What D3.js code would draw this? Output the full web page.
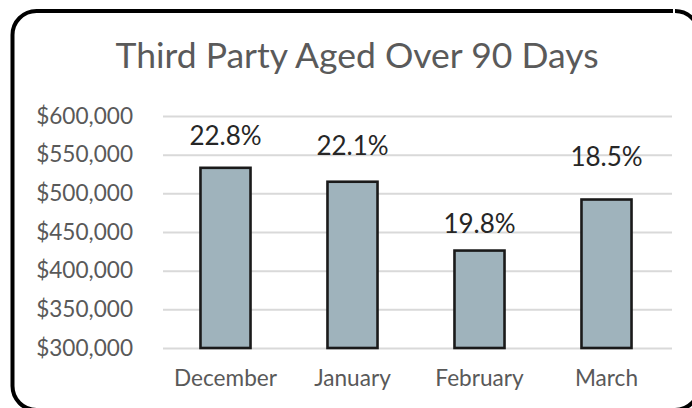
<!DOCTYPE html>
<html>
<head>
<meta charset="utf-8">
<script src="https://cdn.jsdelivr.net/npm/d3@7"></script>
<style>
  html, body { margin: 0; padding: 0; background: #ffffff; overflow: hidden; }
  svg { display: block; font-family: Lato, "Open Sans", sans-serif; }
</style>
</head>
<body>
<svg id="chart" width="692" height="408"></svg>
<script>
// Monthly third-party balances aged over 90 days
const categories = ["December", "January", "February", "March"];
const balances = [533000, 515000, 426000, 492000];
const shareLabels = ["22.8%", "22.1%", "19.8%", "18.5%"];
const yTicks = [300000, 350000, 400000, 450000, 500000, 550000, 600000];
// gap (px) between each bar top and its percentage label baseline
const labelLift = [23, 27, 18, 34];

const svg = d3.select("#chart");

// rounded card frame: left, top and bottom edges with the two right corners
const r = 24, x0 = 12.5, y0 = 11, x1 = 699, y1 = 410;
const frame = d3.path();
frame.moveTo(x1 - r - 2, y0);
frame.lineTo(x0 + r, y0);
frame.arcTo(x0, y0, x0, y0 + r, r);
frame.lineTo(x0, y1 - r);
frame.arcTo(x0, y1, x0 + r, y1, r);
frame.lineTo(x1 - r, y1);
frame.arcTo(x1, y1, x1, y1 - r, r);
frame.moveTo(x1 - r, y0);
frame.arcTo(x1, y0, x1, y0 + r, r);
svg.append("path")
  .attr("d", frame.toString())
  .attr("fill", "none")
  .attr("stroke", "#000000")
  .attr("stroke-width", 4);

svg.append("text")
  .attr("x", 357).attr("y", 68)
  .attr("text-anchor", "middle")
  .attr("font-size", 35.5)
  .attr("fill", "#5a5a5a")
  .text("Third Party Aged Over 90 Days");

const x = d3.scaleBand()
  .domain(categories)
  .range([162, 670])
  .paddingInner(0.606)
  .paddingOuter(0.303);

const y = d3.scaleLinear()
  .domain([300000, 600000])
  .range([348, 116]);

// horizontal gridlines + value axis labels
const yAxis = d3.axisLeft(y)
  .tickValues(yTicks)
  .tickSize(-(672 - 163))
  .tickPadding(30)
  .tickFormat(d => "$" + d3.format(",")(d));

const gy = svg.append("g")
  .attr("transform", "translate(163,0)")
  .call(yAxis);
gy.select(".domain").remove();
gy.selectAll(".tick line")
  .attr("stroke", "#d9d9d9")
  .attr("stroke-width", 2);
gy.selectAll(".tick text")
  .attr("fill", "#595959")
  .attr("font-size", 22.6)
  .attr("font-family", "Lato, sans-serif");

// bars
svg.append("g")
  .selectAll("rect")
  .data(balances)
  .join("rect")
  .attr("x", (d, i) => x(categories[i]))
  .attr("y", d => y(d))
  .attr("width", x.bandwidth())
  .attr("height", d => y(300000) - y(d))
  .attr("fill", "#9fb3bc")
  .attr("stroke", "#1a1a1a")
  .attr("stroke-width", 2.6);

// percentage labels above bars
svg.append("g")
  .selectAll("text")
  .data(shareLabels)
  .join("text")
  .attr("x", (d, i) => x(categories[i]) + x.bandwidth() / 2)
  .attr("y", (d, i) => y(balances[i]) - labelLift[i])
  .attr("text-anchor", "middle")
  .attr("font-size", 26)
  .attr("fill", "#262626")
  .text(d => d);

// category axis
const xAxis = d3.axisBottom(x).tickSize(0).tickPadding(22);
const gx = svg.append("g")
  .attr("transform", "translate(0,348)")
  .call(xAxis);
gx.select(".domain").remove();
gx.selectAll(".tick text")
  .attr("fill", "#595959")
  .attr("font-size", 22.6)
  .attr("font-family", "Lato, sans-serif");
</script>
</body>
</html>
